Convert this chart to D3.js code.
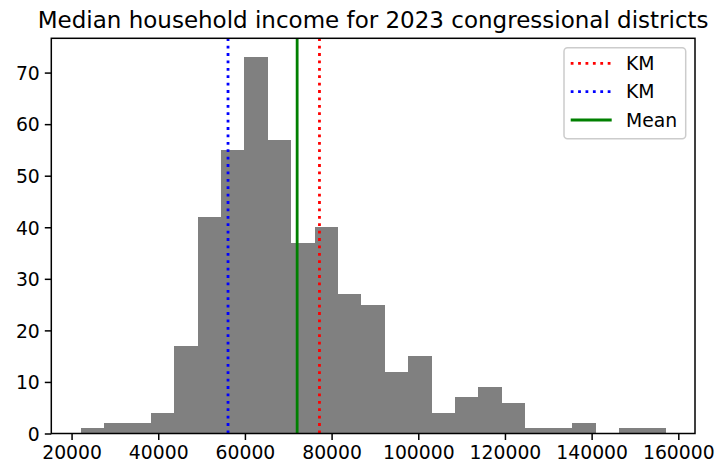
<!DOCTYPE html>
<html>
<head>
<meta charset="utf-8">
<script src="https://cdn.jsdelivr.net/npm/d3@7"></script>
<style>
  html, body { margin: 0; padding: 0; background: #fff; }
  svg { display: block; font-family: "DejaVu Sans", sans-serif; }
</style>
</head>
<body>
<svg id="chart" width="717" height="467"></svg>
<script>
// Histogram of median household income, 25 equal-width bins
const binLow = 22074;
const binHigh = 157100;
const binCounts = [1, 2, 2, 4, 17, 42, 55, 73, 57, 37, 40, 27, 25, 12, 15, 4, 7, 9, 6, 1, 1, 2, 0, 1, 1];

// Reference lines
const refLines = [
  { label: "KM", value: 77200, color: "red", dash: true },
  { label: "KM", value: 56100, color: "blue", dash: true },
  { label: "Mean", value: 72050, color: "green", dash: false }
];

const xTicks = [20000, 40000, 60000, 80000, 100000, 120000, 140000, 160000];
const yTicks = [0, 10, 20, 30, 40, 50, 60, 70];
const titleText = "Median household income for 2023 congressional districts";

const svg = d3.select("#chart");
const box = { left: 51.3, right: 695, top: 38.3, bottom: 433.5 };
const fs = 18.8;

const nBins = binCounts.length;
const binW = (binHigh - binLow) / nBins;
const bins = binCounts.map((c, i) => ({ x0: binLow + i * binW, x1: binLow + (i + 1) * binW, count: c }));

const span = binHigh - binLow;
const x = d3.scaleLinear()
  .domain([binLow - 0.05 * span, binHigh + 0.05 * span])
  .range([box.left, box.right]);
const yMax = d3.max(binCounts);
const y = d3.scaleLinear()
  .domain([0, yMax * 1.05])
  .range([box.bottom, box.top]);

// bars
svg.append("g").selectAll("rect")
  .data(bins)
  .join("rect")
  .attr("x", d => x(d.x0))
  .attr("width", d => x(d.x1) - x(d.x0))
  .attr("y", d => y(d.count))
  .attr("height", d => y(0) - y(d.count))
  .attr("fill", "#808080")
  .attr("shape-rendering", "crispEdges");

// vertical reference lines
svg.append("g").selectAll("line")
  .data(refLines)
  .join("line")
  .attr("x1", d => x(d.value))
  .attr("x2", d => x(d.value))
  .attr("y1", box.top)
  .attr("y2", box.bottom)
  .attr("stroke", d => d.color)
  .attr("stroke-width", 2.8)
  .attr("stroke-dasharray", d => d.dash ? "2.8,4.6" : null);

// axes
const xAxis = d3.axisBottom(x).tickValues(xTicks).tickFormat(d3.format("d"))
  .tickSizeInner(6.5).tickSizeOuter(0).tickPadding(5);
const yAxis = d3.axisLeft(y).tickValues(yTicks).tickFormat(d3.format("d"))
  .tickSizeInner(6.5).tickSizeOuter(0).tickPadding(5);

const gx = svg.append("g").attr("transform", `translate(0,${box.bottom})`).call(xAxis);
const gy = svg.append("g").attr("transform", `translate(${box.left},0)`).call(yAxis);
[gx, gy].forEach(g => {
  g.select(".domain").remove();
  g.selectAll(".tick line").attr("stroke", "#000").attr("stroke-width", 1.5);
  g.selectAll(".tick text").attr("fill", "#000").attr("font-size", fs)
    .attr("font-family", "'DejaVu Sans', sans-serif");
});
gx.selectAll(".tick text").attr("dy", "0.76em");
gy.selectAll(".tick text").attr("dy", "0.36em");

// frame
svg.append("rect")
  .attr("x", box.left).attr("y", box.top)
  .attr("width", box.right - box.left).attr("height", box.bottom - box.top)
  .attr("fill", "none").attr("stroke", "#000").attr("stroke-width", 1.5);

// title
svg.append("text")
  .attr("x", (box.left + box.right) / 2)
  .attr("y", 28)
  .attr("text-anchor", "middle")
  .attr("font-size", 23)
  .attr("fill", "#000")
  .text(titleText);

// legend
const lg = svg.append("g");
lg.append("rect")
  .attr("x", 564).attr("y", 47.7).attr("width", 121.7).attr("height", 91)
  .attr("rx", 3.5).attr("ry", 3.5)
  .attr("fill", "#fff").attr("fill-opacity", 0.8)
  .attr("stroke", "#cccccc").attr("stroke-width", 1.5);
const rows = lg.selectAll("g.row").data(refLines).join("g")
  .attr("class", "row")
  .attr("transform", (d, i) => `translate(0,${63.3 + i * 28.35})`);
rows.append("line")
  .attr("x1", 570.7).attr("x2", 611.7)
  .attr("stroke", d => d.color)
  .attr("stroke-width", 2.8)
  .attr("stroke-dasharray", d => d.dash ? "2.8,4.6" : null);
rows.append("text")
  .attr("x", 626).attr("dy", "0.36em")
  .attr("font-size", fs).attr("fill", "#000")
  .text(d => d.label);
</script>
</body>
</html>
